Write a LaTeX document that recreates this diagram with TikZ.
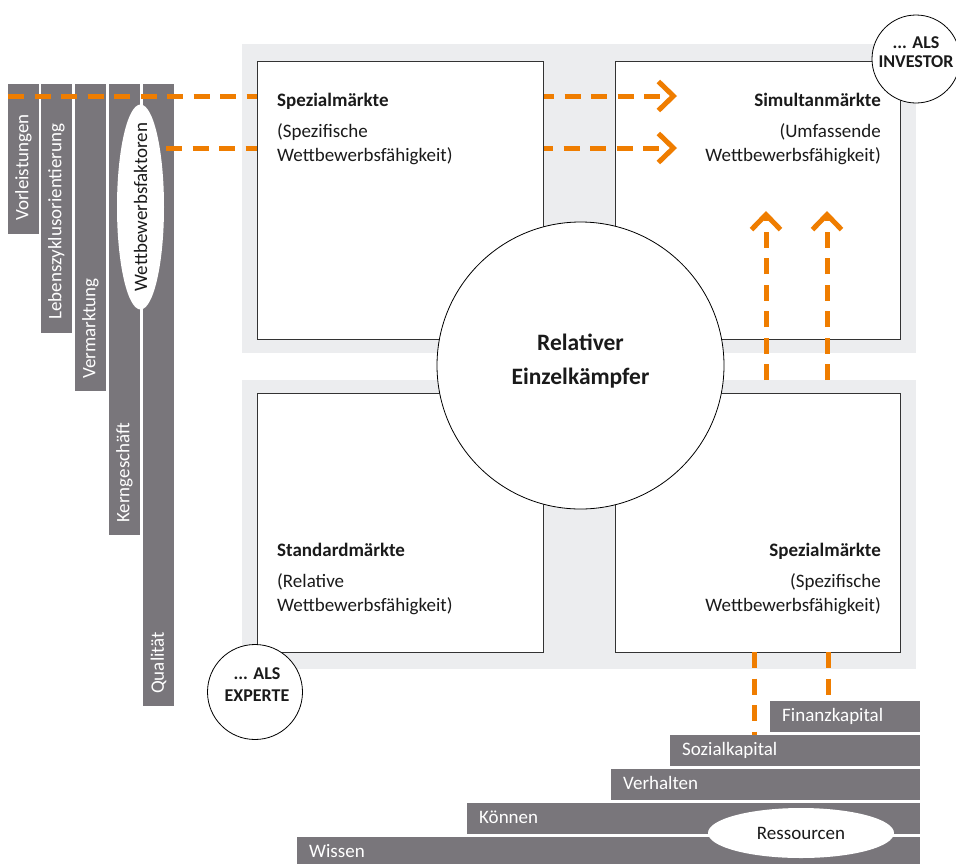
\documentclass[tikz,border=0pt]{standalone}
\usepackage{fontspec}
\setmainfont{Carlito}
\usetikzlibrary{arrows.meta,shapes.geometric}
\definecolor{barg}{HTML}{79767B}
\definecolor{bandg}{HTML}{ECEDEF}
\definecolor{org}{HTML}{EF7D00}
\definecolor{boxline}{HTML}{333333}
\definecolor{ink}{HTML}{1A1A1A}
\begin{document}
\begin{tikzpicture}[x=1pt,y=-1pt,
  band/.style={fill=bandg, draw=none, inner sep=0, anchor=north west},
  mbox/.style={draw=boxline, line width=1.3pt, fill=white, inner sep=0, anchor=north west},
  lbar/.style={fill=barg, inner sep=0, anchor=north west, minimum width=31pt},
  hbar/.style={fill=barg, inner sep=0, anchor=north west, minimum height=31pt},
  vtext/.style={rotate=90, anchor=west, text=white, font=\fontsize{19}{19}\selectfont, inner sep=0},
  htext/.style={anchor=base west, text=white, font=\fontsize{19}{19}\selectfont, inner sep=0},
  flow/.style={draw=org, line width=5pt, dash pattern=on 16pt off 10.5pt},
  tip/.style={-{Straight Barb[length=15pt,width=29pt,line width=5pt]}},
  ttl/.style={text=ink, font=\bfseries\fontsize{19}{19}\selectfont, inner sep=0},
  txt/.style={text=ink, font=\fontsize{19}{19}\selectfont, inner sep=0},
  ring/.style={circle, draw=black, line width=0.8pt, fill=white, inner sep=0},
  als/.style={text=ink, font=\bfseries\fontsize{18}{18}\selectfont, inner sep=0, anchor=base},
  oval/.style={ellipse, fill=white, draw=none, inner sep=0}]
\clip (0,0) rectangle (956,863);
% background bands
\node[band, minimum width=674pt, minimum height=309pt] (bandT) at (242,44) {};
\node[band, minimum width=674pt, minimum height=289pt] (bandB) at (242,380) {};
% boxes (except top-left, drawn later over the flows)
\node[mbox, minimum width=285pt, minimum height=278pt] (TR) at (615,61) {};
\node[mbox, minimum width=286pt, minimum height=259pt] (BL) at (257,393) {};
\node[mbox, minimum width=285pt, minimum height=259pt] (BR) at (615,393) {};
% left bars
\node[lbar, minimum height=150pt] (vb1) at (8,84) {};
\node[lbar, minimum height=249pt] (vb2) at (41,84) {};
\node[lbar, minimum height=307pt] (vb3) at (75,84) {};
\node[lbar, minimum height=451pt] (vb4) at (109,84) {};
\node[lbar, minimum height=622pt] (vb5) at (143,84) {};
\node[vtext] (tv1) at (23.5,221) {Vorleistungen};
\node[vtext] (tv2) at (56.5,320) {Lebenszyklusorientierung};
\node[vtext] (tv3) at (90.5,379) {Vermarktung};
\node[vtext] (tv4) at (124.5,523) {Kerngeschäft};
\node[vtext] (tv5) at (158.5,694) {Qualität};
\node[oval, minimum width=47pt, minimum height=205pt] (wf) at (140.5,207) {};
\node[rotate=90, text=ink, font=\fontsize{19}{19}\selectfont, inner sep=0] (wft) at (wf.center) {Wettbewerbsfaktoren};
% bottom bars
\node[hbar, minimum width=150pt] (hb1) at (770,701) {};
\node[hbar, minimum width=250pt] (hb2) at (670,735) {};
\node[hbar, minimum width=309pt] (hb3) at (611,769) {};
\node[hbar, minimum width=453pt] (hb4) at (467,803) {};
\node[hbar, minimum width=623pt] (hb5) at (297,837) {};
\node[htext] (th1) at (782,721) {Finanzkapital};
\node[htext] (th2) at (682,755) {Sozialkapital};
\node[htext] (th3) at (623,789) {Verhalten};
\node[htext] (th4) at (479,823) {Können};
\node[htext] (th5) at (309,857) {Wissen};
\node[oval, minimum width=186pt, minimum height=50pt] (res) at (801,833) {};
\node[txt] (rest) at (res.center) {Ressourcen};
% flows
\coordinate (h1s) at (8,96);
\coordinate (h1e) at (677,96);
\coordinate (h2s) at (166,148);
\coordinate (h2e) at (677,148);
\coordinate (u1s) at (766,380);
\coordinate (u1e) at (766,211);
\coordinate (u2s) at (827,380);
\coordinate (u2e) at (827,211);
\coordinate (d1s) at (754,652);
\coordinate (d2s) at (828,652);
\draw[flow, tip] (h1s) -- (h1e);
\draw[flow, tip] (h2s) -- (h2e);
\draw[flow, tip] (u1s) -- (u1e);
\draw[flow, tip] (u2s) -- (u2e);
\draw[flow] (d1s) -- (d1s |- hb2.north);
\draw[flow] (d2s) -- (d2s |- hb1.north);
% top-left box over the flows
\node[mbox, minimum width=286pt, minimum height=278pt] (TL) at (257,61) {};
% box texts
\node[ttl, anchor=base west] (tl1) at (277,106) {Spezialmärkte};
\node[txt, anchor=base west] (tl2) at (277,137) {(Spezifische};
\node[txt, anchor=base west] (tl3) at (277,161) {Wettbewerbsfähigkeit)};
\node[ttl, anchor=base east] (tr1) at (881,106) {Simultanmärkte};
\node[txt, anchor=base east] (tr2) at (881,137) {(Umfassende};
\node[txt, anchor=base east] (tr3) at (881,161) {Wettbewerbsfähigkeit)};
\node[ttl, anchor=base west] (bl1) at (277,556) {Standardmärkte};
\node[txt, anchor=base west] (bl2) at (277,587) {(Relative};
\node[txt, anchor=base west] (bl3) at (277,611) {Wettbewerbsfähigkeit)};
\node[ttl, anchor=base east] (br1) at (881,556) {Spezialmärkte};
\node[txt, anchor=base east] (br2) at (881,587) {(Spezifische};
\node[txt, anchor=base east] (br3) at (881,611) {Wettbewerbsfähigkeit)};
% circles
\node[ring, minimum size=287pt] (cen) at (580.5,365.5) {};
\node[text=ink, font=\bfseries\fontsize{23.5}{23.5}\selectfont, inner sep=0, anchor=base] (c1) at (580.5,350) {Relativer};
\node[text=ink, font=\bfseries\fontsize{23.5}{23.5}\selectfont, inner sep=0, anchor=base] (c2) at (580.5,384) {Einzelkämpfer};
\node[ring, minimum size=88pt] (inv) at (916,59) {};
\node[als] (inv1) at (916,48) {... ALS};
\node[als] (inv2) at (916,67) {INVESTOR};
\node[ring, minimum size=95pt] (exp) at (255,692) {};
\node[als] (exp1) at (257,679) {... ALS};
\node[als] (exp2) at (257,701) {EXPERTE};
\end{tikzpicture}
\end{document}
